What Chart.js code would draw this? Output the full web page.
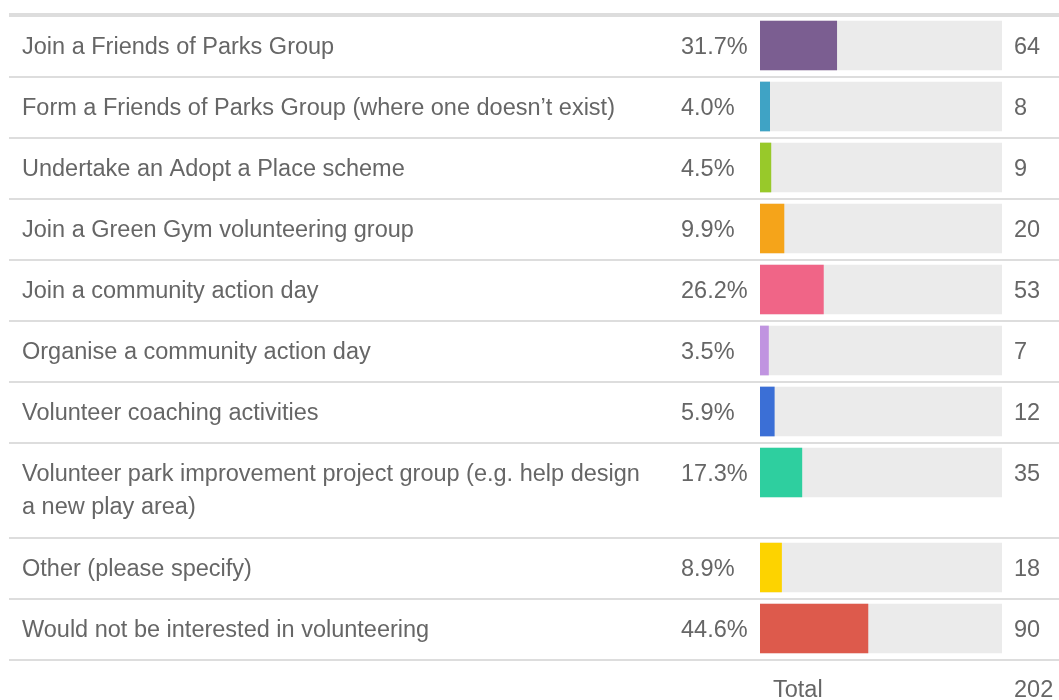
<!DOCTYPE html>
<html>
<head>
<meta charset="utf-8">
<script src="https://cdn.jsdelivr.net/npm/chart.js@4.4.1/dist/chart.umd.min.js"></script>
<style>
  html, body { margin: 0; padding: 0; background: #fff; }
  #wrap { width: 1059px; height: 700px; position: relative; }
</style>
</head>
<body>
<div id="wrap"><canvas id="grafico" width="1059" height="700"></canvas></div>
<script>
// Dados
const categorias = [
    'Join a Friends of Parks Group',
    'Form a Friends of Parks Group (where one doesn\u2019t exist)',
    'Undertake an Adopt a Place scheme',
    'Join a Green Gym volunteering group',
    'Join a community action day',
    'Organise a community action day',
    'Volunteer coaching activities',
    'Volunteer park improvement project group (e.g. help design\na new play area)',
    'Other (please specify)',
    'Would not be interested in volunteering'
];
const percentuais = [31.7, 4.0, 4.5, 9.9, 26.2, 3.5, 5.9, 17.3, 8.9, 44.6];
const contagens = [64, 8, 9, 20, 53, 7, 12, 35, 18, 90];
const total = 202;
const cores = ['#7b5e91', '#3fa3c5', '#98c92a', '#f5a41a', '#f06587',
               '#c094e0', '#3b6fd6', '#2ecf9f', '#fdd300', '#dd5a4c'];

// Layout das linhas (altura depende do número de linhas do rótulo)
const topo = 16;
const alturaBase = 61;
const alturaLinha = 34;
const topos = [];
let yAtual = topo;
categorias.forEach(c => {
    topos.push(yAtual);
    yAtual += alturaBase + (c.split('\n').length - 1) * alturaLinha;
});
const topoTotal = yAtual;
const centros = topos.map(t => t + 29.5);

const corTexto = '#666666';
const fonte = '23.5px "Liberation Sans", Arial, Helvetica, sans-serif';

const textos = {
    id: 'textos',
    beforeDatasetsDraw(chart) {
        const c = chart.ctx;
        c.save();
        c.fillStyle = '#dddddd';
        c.fillRect(9, topo - 3, 1059 - 9, 4);
        topos.slice(1).forEach(t => c.fillRect(9, t - 1, 1059 - 9, 2));
        c.fillRect(9, topoTotal - 1, 1059 - 9, 2);
        c.restore();
    },
    afterDraw(chart) {
        const c = chart.ctx;
        const y = chart.scales.y;
        c.save();
        c.font = fonte;
        c.fillStyle = corTexto;
        c.textAlign = 'left';
        c.textBaseline = 'alphabetic';
        categorias.forEach((cat, i) => {
            const base = y.getPixelForValue(centros[i]) + 8.5;
            cat.split('\n').forEach((linha, k) => {
                c.fillText(linha, 22, base + k * 33);
            });
            c.fillText(percentuais[i].toFixed(1) + '%', 681, base);
            c.fillText(String(contagens[i]), 1014, base);
        });
        const baseTotal = topoTotal + 29.5 + 7.5;
        c.fillText('Total', 773, baseTotal);
        c.fillText(String(total), 1014, baseTotal);
        c.restore();
    }
};

const ctx = document.getElementById('grafico').getContext('2d');
const grafico = new Chart(ctx, {
    type: 'bar',
    data: {
        datasets: [{
            label: 'Percentual',
            data: percentuais.map((p, i) => ({ x: p, y: centros[i] })),
            backgroundColor: cores,
            borderWidth: 0,
            barThickness: 49,
            grouped: false
        }, {
            label: 'Fundo',
            data: percentuais.map((p, i) => ({ x: 100, y: centros[i] })),
            backgroundColor: '#ebebeb',
            borderWidth: 0,
            barThickness: 49,
            grouped: false
        }]
    },
    options: {
        indexAxis: 'y',
        responsive: false,
        animation: false,
        layout: { padding: { left: 760, right: 57, top: 0, bottom: 0 } },
        plugins: {
            legend: { display: false },
            tooltip: { enabled: false }
        },
        scales: {
            x: { type: 'linear', min: 0, max: 100, display: false },
            y: { type: 'linear', min: 0, max: 700, reverse: true, offset: false, display: false }
        }
    },
    plugins: [textos]
});
</script>
</body>
</html>
